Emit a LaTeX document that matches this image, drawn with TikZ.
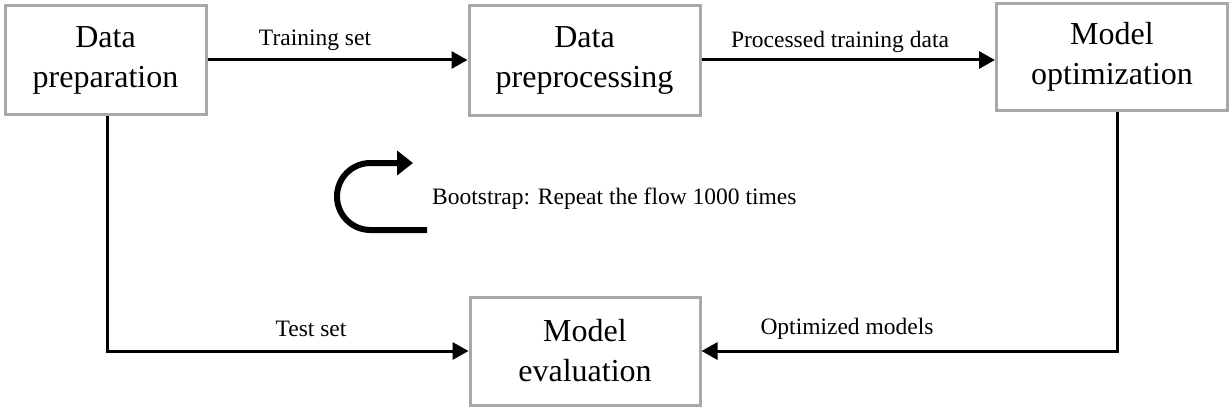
\documentclass[tikz,border=0pt]{standalone}
\usepackage{fontspec}
\setmainfont{Liberation Serif}
\usetikzlibrary{arrows.meta}
\definecolor{boxgray}{HTML}{A8A8A8}
\tikzset{
  x=1pt,y=1pt,
  procbox/.style={draw=boxgray, line width=3pt, rectangle, align=center,
    font=\fontsize{32}{40}\selectfont, inner sep=0pt},
  flow/.style={draw=black, line width=3pt, -{Triangle[length=16pt,width=17pt]}},
  lbl/.style={font=\fontsize{23.5}{28}\selectfont, inner sep=0pt}
}
\begin{document}
\begin{tikzpicture}
\useasboundingbox (0,0) rectangle (1231,408);
\fill[white] (0,0) rectangle (1231,408);
\node[procbox, minimum width=201pt, minimum height=109pt] (b1) at (105.5,348) {Data\\preparation};
\node[procbox, minimum width=231pt, minimum height=109pt] (b2) at (584.5,347.5) {Data\\preprocessing};
\node[procbox, minimum width=231pt, minimum height=106pt] (b3) at (1112,351) {Model\\optimization};
\node[procbox, minimum width=230pt, minimum height=108pt] (b4) at (585,57) {Model\\evaluation};

\draw[flow] (b1.east) -- (b1.east -| b2.west);
\draw[flow] ([yshift=0.5pt]b2.east) -- ([yshift=0.5pt]b2.east -| b3.west);
\draw[flow] ([xshift=1.5pt]b1.south) |- (b4.west);
\draw[flow] ([xshift=5pt]b3.south) |- (b4.east);

\node[lbl] (l1) at (315,368) {Training set};
\node[lbl] (l2) at (840,366) {Processed training data};
\node[lbl] (l3) at (311,79) {Test set};
\node[lbl] (l4) at (847,79) {Optimized models};

\coordinate (bsStart) at (427,178);
\coordinate (bsTip) at (413,245);
\draw[line width=6pt, -{Triangle[length=16pt,width=24pt]}]
  (bsStart) -- (370.5,178) arc[start angle=-90, end angle=-270, radius=33.5] -- (bsTip);
\node[lbl, anchor=west] (bs) at (432,209) {Bootstrap: Repeat the flow 1000 times};
\end{tikzpicture}
\end{document}
